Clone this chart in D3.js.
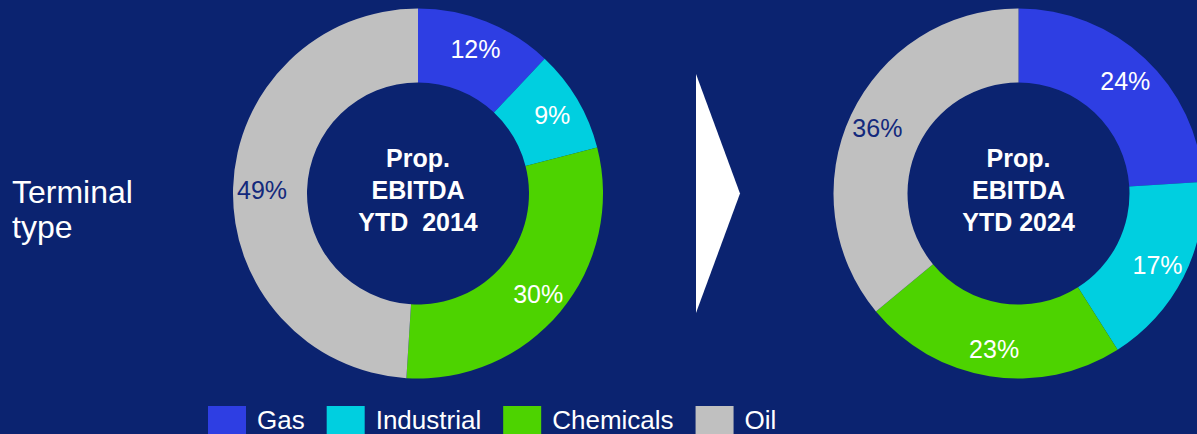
<!DOCTYPE html>
<meta charset="utf-8">
<style>
body { margin: 0; background: #0b2370; }
text { font-family: "Liberation Sans", Arial, sans-serif; }
</style>
<svg width="1197" height="434"></svg>
<script src="https://d3js.org/d3.v7.min.js"></script>
<script>

var categories = ["Gas", "Industrial", "Chemicals", "Oil"];
var values2014 = [12, 9, 30, 49];
var values2024 = [24, 17, 23, 36];
var titles2014 = ["Prop.", "EBITDA", "YTD  2014"];
var titles2024 = ["Prop.", "EBITDA", "YTD 2024"];

var svg = d3.select("svg"),
    width = +svg.attr("width"),
    height = +svg.attr("height");

var bg = "#0b2370";
svg.append("rect").attr("width", width).attr("height", height).attr("fill", bg);

var color = d3.scaleOrdinal()
    .domain(categories)
    .range(["#2e3ee3", "#00cfe0", "#4dd300", "#c0c0c0"]);

// label colour: dark on the grey slice
var labelColor = function(cat) { return cat == "Oil" ? "#13297c" : "#fff"; };

var outerR = 185, innerR = 111, labelR = 156;

var pie = d3.pie().sort(null).value(function(d) { return d.v; });
var arc = d3.arc().innerRadius(innerR).outerRadius(outerR);
var labelArc = d3.arc().innerRadius(labelR).outerRadius(labelR);

function donut(cx, cy, values, titles) {
  var data = categories.map(function(c, i) { return {c: c, v: values[i]}; });
  var g = svg.append("g").attr("transform", "translate(" + cx + "," + cy + ")");

  g.selectAll("path")
    .data(pie(data))
    .enter().append("path")
      .attr("d", arc)
      .attr("fill", function(d) { return color(d.data.c); });

  g.selectAll(".lbl")
    .data(pie(data))
    .enter().append("text")
      .attr("class", "lbl")
      .attr("transform", function(d) { return "translate(" + labelArc.centroid(d) + ")"; })
      .attr("text-anchor", "middle")
      .attr("dy", "0.4em")
      .attr("font-size", 25)
      .attr("fill", function(d) { return labelColor(d.data.c); })
      .text(function(d) { return d.data.v + "%"; });

  g.selectAll(".ttl")
    .data(titles)
    .enter().append("text")
      .attr("class", "ttl")
      .attr("x", 0)
      .attr("y", function(d, i) { return -27 + i * 32; })
      .attr("text-anchor", "middle")
      .attr("font-size", 25)
      .attr("font-weight", "bold")
      .attr("fill", "#fff")
      .style("white-space", "pre")
      .text(function(d) { return d; });
}

donut(418, 193.5, values2014, titles2014);
donut(1018.5, 193.5, values2024, titles2024);

// arrow between the two years
svg.append("path")
    .attr("d", "M696,74 L740,193.5 L696,313 Z")
    .attr("fill", "#fff");

// row label
svg.append("text")
    .attr("x", 12)
    .attr("font-size", 32)
    .attr("fill", "#fff")
    .selectAll("tspan")
    .data(["Terminal", "type"])
    .enter().append("tspan")
      .attr("x", 12)
      .attr("y", function(d, i) { return 203 + i * 35; })
      .text(function(d) { return d; });

// legend
var legend = svg.append("g").attr("transform", "translate(208,0)");
var lx = 0;
categories.forEach(function(c) {
  legend.append("rect")
      .attr("x", lx).attr("y", 406)
      .attr("width", 38).attr("height", 40)
      .attr("fill", color(c));
  var t = legend.append("text")
      .attr("x", lx + 49).attr("y", 429)
      .attr("font-size", 26)
      .attr("fill", "#fff")
      .text(c);
  lx += 49 + t.node().getComputedTextLength() + 22;
});

</script>
